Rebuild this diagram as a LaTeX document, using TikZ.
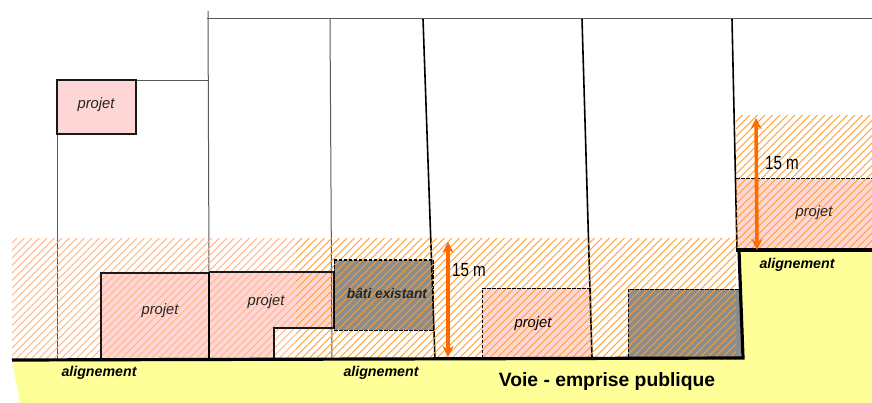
\documentclass[tikz,border=0pt]{standalone}
\usepackage{fontspec}
\setmainfont{Liberation Sans}
\definecolor{yel}{HTML}{FFFF99}
\definecolor{pinkb}{HTML}{FFD6D6}
\definecolor{grayb}{HTML}{8C8C8C}
\definecolor{hatchA}{HTML}{FFB27F}
\definecolor{hatchB}{HTML}{FF9F2A}
\definecolor{arrowc}{HTML}{FF6A00}
\usetikzlibrary{arrows.meta}
\tikzset{
  thinline/.style={draw=black!65,line width=1pt},
  wall/.style={draw=black,line width=1.6pt},
  heavy/.style={draw=black,line width=3.2pt},
  projfill/.style={fill=pinkb},
  projline/.style={draw=black!90,line width=1.7pt},
  dashbox/.style={draw=black,line width=1pt,dash pattern=on 3.5pt off 1.5pt},
  lab/.style={font=\itshape\fontsize{15}{17}\selectfont,text=black!85,inner sep=0pt,xscale=.98},
  alab/.style={font=\bfseries\itshape\fontsize{14.2}{16}\selectfont,inner sep=0pt},
  mlab/.style={font=\fontsize{19}{22}\selectfont,inner sep=0pt,xscale=.8},
  dim/.style={draw=arrowc,line width=3.6pt,{Stealth[length=11pt,width=11pt]}-{Stealth[length=11pt,width=11pt]}},
}
\newcommand{\hatchlines}[5]{% x0,y0,x1,y1,color
  \begin{scope}
    \clip (#1,#2) rectangle (#3,#4);
    \foreach \k in {0,7.5,...,1400}{
      \draw[#5,line width=.85pt] ({\k-300},#4) -- ++(300,-300);
    }
  \end{scope}}
\begin{document}
\begin{tikzpicture}[x=1pt,y=-1pt]
\useasboundingbox (0,0) rectangle (872,403);
\fill[white] (0,0) rectangle (872,403);
% road
\fill[yel] (12,360) -- (743,358) -- (739,250) -- (872,250) -- (872,403) -- (20,403) -- cycle;
% fills
\fill[projfill] (57,80) rectangle (136,134);
\fill[projfill] (101,273) rectangle (209,360);
\fill[projfill] (209,272) -- (334,272) -- (334,328) -- (274,328) -- (274,360) -- (209,360) -- cycle;
\fill[projfill] (482,288) rectangle (592,358);
\fill[projfill] (736,179) rectangle (872,250);
\fill[grayb] (334,260) rectangle (433,330);
\fill[grayb] (628,289) rectangle (741,357);
% plot lines
\draw[thinline] (207,19) -- (872,19);
\draw[thinline] (208,11) -- (209,272);
\draw[thinline] (136,81) -- (208,81);
\draw[thinline] (57,134) -- (57,360);
\draw[thinline] (330,19) -- (332,360);
\draw[wall] (423,19) -- (435,360);
\draw[wall] (582,19) -- (592,358);
\draw[wall] (732,19) -- (737,250);
% hatching
\hatchlines{12}{239}{296}{360}{hatchA}
\hatchlines{296}{239}{736}{360}{hatchB}
\hatchlines{736}{116}{872}{250}{hatchB}
% outlines
\draw[projline] (57,80) rectangle (136,134);
\draw[projline] (101,360) -- (101,273) -- (209,273);
\draw[projline] (209,272) -- (334,272) -- (334,328) -- (274,328) -- (274,360);
\draw[line width=2.4pt] (209,272) -- (209,360);
\draw[dashbox] (592,358) -- (482,358) -- (482,288) -- (592,288);
\draw[dashbox] (736,179) -- (872,179);
\draw[dashbox] (334,260) rectangle (433,330);
\draw[dashbox] (628,357) -- (628,289) -- (741,289);
% heavy boundary
\draw[heavy] (12,360) -- (743,358) -- (739,251);
\draw[heavy] (736,250) -- (872,250);
% dimension arrows
\coordinate (a1) at (448,242);
\coordinate (b1) at (448,357);
\coordinate (a2) at (756,118);
\coordinate (b2) at (757,250);
\draw[dim] (a1) -- (b1);
\draw[dim] (a2) -- (b2);
% texts
\node[lab] (p1) at (96,105) {projet};
\node[lab] (p2) at (160,311) {projet};
\node[lab] (p3) at (266,302) {projet};
\node[lab,font=\bfseries\itshape\fontsize{14}{16}\selectfont] (be) at (387,293) {bâti existant};
\node[lab,text=black] (p4) at (533,324) {projet};
\node[lab] (p5) at (814,213) {projet};
\node[alab] (al1) at (99,373) {alignement};
\node[alab] (al2) at (381,373) {alignement};
\node[alab] (al3) at (797,265) {alignement};
\node[mlab] (m1) at (469,270) {15 m};
\node[mlab] (m2) at (782,163) {15 m};
\node[font=\bfseries\fontsize{19.3}{23}\selectfont,inner sep=0pt] (v) at (607,382) {Voie - emprise publique};
\end{tikzpicture}
\end{document}
